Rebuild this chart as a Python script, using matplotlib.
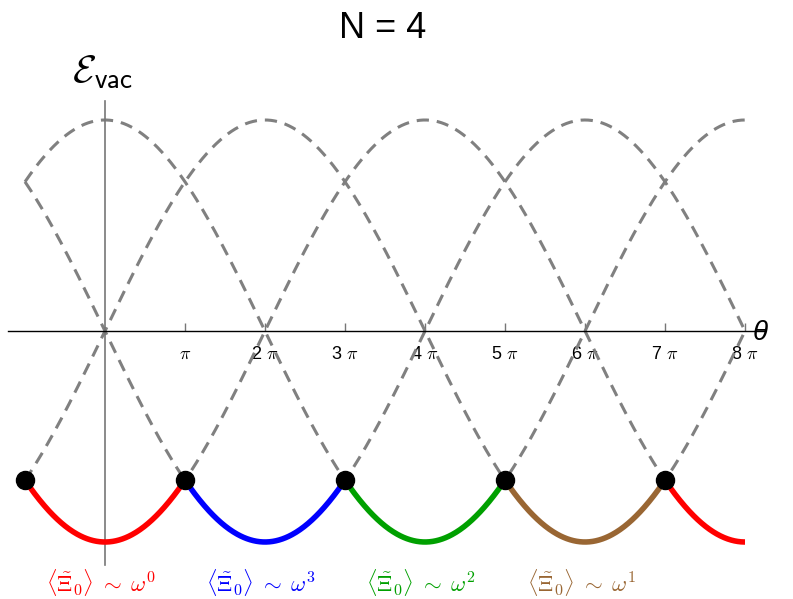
import matplotlib.pyplot as plt
import numpy as np

plt.rcParams["mathtext.fontset"] = "cm"
plt.rcParams["font.family"] = ["Liberation Sans", "DejaVu Sans"]

# Vacuum branches E_k(theta) = -cos((theta + 2 pi k) / N)
N = 4
BRANCHES = [0, 1, 2, 3]

# Colored ground-state segments (in units of pi) and their branch index
SEG_START = [-1, 1, 3, 5, 7]
SEG_END = [1, 3, 5, 7, 8]
SEG_BRANCH = [0, 3, 2, 1, 0]
SEG_COLORS = ["#ff0000", "#0000ff", "#00a000", "#996633", "#ff0000"]

# Level crossings marked with dots (units of pi)
CROSSINGS = [-1, 1, 3, 5, 7]

TICKS = [1, 2, 3, 4, 5, 6, 7, 8]
TICK_LABELS = [r"$\pi$", r"2 $\pi$", r"3 $\pi$", r"4 $\pi$",
               r"5 $\pi$", r"6 $\pi$", r"7 $\pi$", r"8 $\pi$"]

LABEL_POS = [0, 2, 4, 6]
LABEL_POWERS = [0, 3, 2, 1]
LABEL_COLORS = ["#ff0000", "#0000ff", "#00a000", "#996633"]


def energy(theta, k):
    return -np.cos((theta + 2 * np.pi * k) / N)


fig = plt.figure(figsize=(7.93, 5.99), dpi=100)
W, H = 793, 599
ax = fig.add_axes([8 / W, 1 - 565 / H, (765 - 8) / W, (565 - 101) / H])
ax.set_xlim(-1.2125 * np.pi, 8.25 * np.pi)
ax.set_ylim(-1.109, 1.09)

# axes through the origin
for s in ["top", "right"]:
    ax.spines[s].set_visible(False)
ax.spines["left"].set_position(("data", 0))
ax.spines["bottom"].set_position(("data", 0))
ax.spines["left"].set_color("#777777")
ax.spines["left"].set_linewidth(1.2)
ax.spines["bottom"].set_linewidth(1.0)
ax.set_yticks([])
ax.set_xticks([t * np.pi for t in TICKS])
ax.set_xticklabels(TICK_LABELS)
ax.tick_params(axis="x", direction="in", length=6, width=1, color="#777777",
               labelsize=13, pad=11)

# dashed branches
th = np.linspace(-np.pi, 8 * np.pi, 800)
for k in BRANCHES:
    ax.plot(th, energy(th, k), color="#808080", lw=2.2, ls=(0, (4, 2.6)), zorder=2)

# solid ground state segments
for a, b, k, c in zip(SEG_START, SEG_END, SEG_BRANCH, SEG_COLORS):
    t = np.linspace(a * np.pi, b * np.pi, 200)
    ax.plot(t, energy(t, k), color=c, lw=4, solid_capstyle="butt", zorder=3)

cx = np.array(CROSSINGS) * np.pi
cy = np.minimum.reduce([energy(cx, k) for k in BRANCHES])
ax.plot(cx, cy, "o", color="black", ms=13, zorder=4, clip_on=False)

# labels
for p, n, c in zip(LABEL_POS, LABEL_POWERS, LABEL_COLORS):
    ax.text(p * np.pi - 0.05 * np.pi, -1.19,
            r"$\langle\tilde{\Xi}_0\rangle\;\sim\;\omega^{%d}$" % n,
            color=c, fontsize=16.5, ha="center", va="center")

fig.text(103 / W, 1 - 72 / H, r"$\mathcal{E}_{\mathsf{vac}}$", fontsize=28,
         ha="center", va="center")
fig.text(760 / W, 1 - 333 / H, "θ", fontsize=20, style="italic",
         ha="center", va="center")
fig.text(383 / W, 1 - 28 / H, "N = 4", fontsize=26, ha="center", va="center")

fig.savefig("out.png", dpi=100)
